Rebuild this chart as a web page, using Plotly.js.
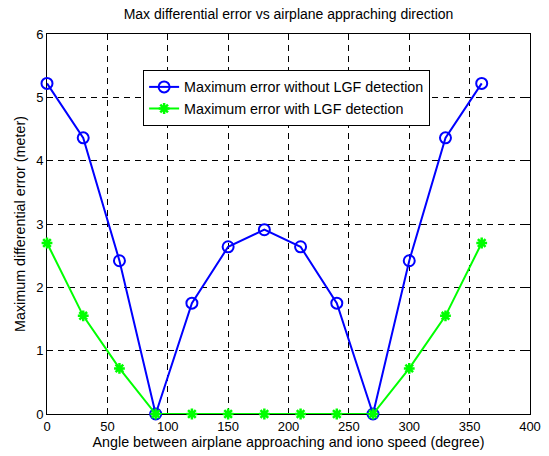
<!DOCTYPE html>
<html><head><meta charset="utf-8">
<script src="https://cdn.plot.ly/plotly-3.0.1.min.js"></script>
<style>body{margin:0;background:#fff}#chart{width:549px;height:456px}</style>
</head><body><div id="chart"></div>
<script>
const angles = [0,30,60,90,120,150,180,210,240,270,300,330,360];
const errNoLGF = [5.22,4.36,2.42,0,1.75,2.64,2.91,2.64,1.75,0,2.42,4.36,5.22];
const errLGF = [2.7,1.55,0.72,0,0,0,0,0,0,0,0.72,1.55,2.7];
const xTicks = [0,50,100,150,200,250,300,350,400];
const yTicks = [0,1,2,3,4,5,6];

const fam = 'Liberation Sans, Arial, sans-serif';
const tickFont = {family:fam, size:13, color:'#000'};
const labFont = {family:fam, size:14.3, color:'#000'};
const traces = [
 {x:angles,y:errNoLGF,type:'scatter',mode:'lines+markers',name:'Maximum error without LGF detection',cliponaxis:false,
  line:{color:'#0000ff',width:2},marker:{symbol:'circle-open',size:11,color:'#0000ff',line:{width:2,color:'#0000ff'}}},
 {x:angles,y:errLGF,type:'scatter',mode:'lines+markers',name:'Maximum error with LGF detection',cliponaxis:false,
  line:{color:'#00ff00',width:2},marker:{symbol:'asterisk-open',size:9,color:'#00ff00',line:{width:2.5,color:'#00ff00'}}}
];
const axisCommon = {showline:true,mirror:'ticks',linecolor:'#000',linewidth:1,ticks:'inside',ticklen:5,tickcolor:'#000',
  showgrid:true,gridcolor:'#000',griddash:'6px,5px',gridwidth:1,zeroline:false,tickfont:tickFont,layer:'below traces'};
const layout = {
 width:549,height:456,paper_bgcolor:'#fff',plot_bgcolor:'#fff',font:tickFont,
 margin:{l:47,r:19,t:34,b:42},
 title:{text:'Max differential error vs airplane appraching direction',font:{family:fam,size:14,color:'#000'},
   xref:'paper',x:0.5,xanchor:'center',yref:'container',y:0.969,yanchor:'middle'},
 xaxis:Object.assign({},axisCommon,{range:[0,400],tickvals:xTicks,ticktext:xTicks.map(String),
   title:{text:'Angle between airplane approaching and iono speed (degree)',font:labFont,standoff:1}}),
 yaxis:Object.assign({},axisCommon,{range:[0,6],tickvals:yTicks,ticktext:yTicks.map(String),
   title:{text:'Maximum differential error (meter)',font:labFont,standoff:7}}),
 showlegend:true,
 legend:{x:0.199,y:0.905,xanchor:'left',yanchor:'top',bgcolor:'#fff',bordercolor:'#000',borderwidth:1,
   font:labFont,tracegroupgap:0,itemwidth:30}
};
Plotly.newPlot('chart',traces,layout,{displayModeBar:false,staticPlot:true});
</script></body></html>
